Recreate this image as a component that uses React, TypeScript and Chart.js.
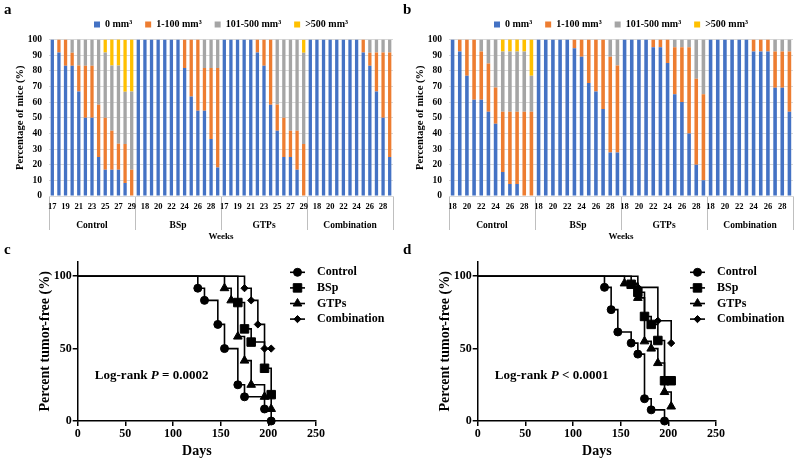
import React, { useEffect, useRef } from 'react';
import { Chart, registerables } from 'chart.js';
import { drawPoint } from 'chart.js/helpers';

Chart.register(...registerables);

const SERIF = "'Liberation Serif', 'Times New Roman', Times, serif";
Chart.defaults.font.family = SERIF;
Chart.defaults.color = '#000';

const groupNames = ['Control', 'BSp', 'GTPs', 'Combination'];
const sizeLabels = ['0 mm³', '1-100 mm³', '101-500 mm³', '>500 mm³'];
const sizeColors = ['#4472C4', '#ED7D31', '#A5A5A5', '#FFC000'];

// ---------- Panel a (weeks 17-29) ----------
const weeksA = ['17', '18', '19', '20', '21', '22', '23', '24', '25', '26', '27', '28', '29'];
const aControl0 = [100, 91.7, 83.3, 83.3, 66.7, 50, 50, 25, 16.7, 16.7, 16.7, 8.3, 0];
const aControl1 = [0, 8.3, 16.7, 8.3, 16.7, 33.3, 33.3, 33.3, 33.3, 25, 16.7, 25, 16.7];
const aControl2 = [0, 0, 0, 8.3, 16.7, 16.7, 16.7, 41.7, 41.7, 41.7, 50, 33.3, 50];
const aControl3 = [0, 0, 0, 0, 0, 0, 0, 0, 8.3, 16.7, 16.7, 33.3, 33.3];
const aBSp0 = [100, 100, 100, 100, 100, 100, 100, 81.8, 63.6, 54.5, 54.5, 36.4, 18.2];
const aBSp1 = [0, 0, 0, 0, 0, 0, 0, 18.2, 36.4, 45.5, 27.3, 45.4, 63.6];
const aBSp2 = [0, 0, 0, 0, 0, 0, 0, 0, 0, 0, 18.2, 18.2, 18.2];
const aBSp3 = [0, 0, 0, 0, 0, 0, 0, 0, 0, 0, 0, 0, 0];
const aGTPs0 = [100, 100, 100, 100, 100, 91.7, 83.3, 58.3, 41.7, 25, 25, 16.7, 0];
const aGTPs1 = [0, 0, 0, 0, 0, 8.3, 16.7, 41.7, 16.7, 25, 16.7, 25, 33.3];
const aGTPs2 = [0, 0, 0, 0, 0, 0, 0, 0, 41.7, 50, 58.3, 58.3, 58.3];
const aGTPs3 = [0, 0, 0, 0, 0, 0, 0, 0, 0, 0, 0, 0, 8.3];
const aComb0 = [100, 100, 100, 100, 100, 100, 100, 100, 91.7, 83.3, 66.7, 50, 25];
const aComb1 = [0, 0, 0, 0, 0, 0, 0, 0, 8.3, 8.3, 25, 41.7, 66.7];
const aComb2 = [0, 0, 0, 0, 0, 0, 0, 0, 0, 8.3, 8.3, 8.3, 8.3];
const aComb3 = [0, 0, 0, 0, 0, 0, 0, 0, 0, 0, 0, 0, 0];

// ---------- Panel b (weeks 18-29) ----------
const weeksB = ['18', '19', '20', '21', '22', '23', '24', '25', '26', '27', '28', '29'];
const bControl0 = [100, 92.3, 76.9, 61.5, 61.5, 53.8, 46.2, 15.4, 7.7, 7.7, 0, 0];
const bControl1 = [0, 7.7, 23.1, 38.5, 30.8, 30.8, 23.1, 38.5, 46.2, 46.2, 53.8, 53.8];
const bControl2 = [0, 0, 0, 0, 7.7, 15.4, 30.8, 38.5, 38.5, 38.5, 38.5, 23.1];
const bControl3 = [0, 0, 0, 0, 0, 0, 0, 7.7, 7.7, 7.7, 7.7, 23.1];
const bBSp0 = [100, 100, 100, 100, 100, 94.4, 88.9, 72.2, 66.7, 55.6, 27.8, 27.8];
const bBSp1 = [0, 0, 0, 0, 0, 5.6, 11.1, 27.8, 33.3, 44.4, 61.1, 55.6];
const bBSp2 = [0, 0, 0, 0, 0, 0, 0, 0, 0, 0, 11.1, 16.7];
const bBSp3 = [0, 0, 0, 0, 0, 0, 0, 0, 0, 0, 0, 0];
const bGTPs0 = [100, 100, 100, 100, 95, 95, 85, 65, 60, 40, 20, 10];
const bGTPs1 = [0, 0, 0, 0, 5, 5, 15, 30, 35, 55, 55, 55];
const bGTPs2 = [0, 0, 0, 0, 0, 0, 0, 5, 5, 5, 25, 35];
const bGTPs3 = [0, 0, 0, 0, 0, 0, 0, 0, 0, 0, 0, 0];
const bComb0 = [100, 100, 100, 100, 100, 100, 92.3, 92.3, 92.3, 69.2, 69.2, 53.8];
const bComb1 = [0, 0, 0, 0, 0, 0, 7.7, 7.7, 7.7, 23.1, 23.1, 38.5];
const bComb2 = [0, 0, 0, 0, 0, 0, 0, 0, 0, 7.7, 7.7, 7.7];
const bComb3 = [0, 0, 0, 0, 0, 0, 0, 0, 0, 0, 0, 0];

// ---------- Panel c (Kaplan-Meier) ----------
const cControlDays = [0, 126, 133, 147, 154, 168, 175, 196, 203];
const cControlSurv = [100, 91.7, 83.3, 66.7, 50, 25, 16.7, 8.3, 0];
const cBSpDays = [0, 168, 175, 182, 196, 203];
const cBSpSurv = [100, 81.8, 63.6, 54.5, 36.4, 18.2];
const cGTPsDays = [0, 154, 161, 168, 175, 182, 196, 203];
const cGTPsSurv = [100, 91.7, 83.3, 58.3, 41.7, 25, 16.7, 8.3];
const cCombDays = [0, 175, 182, 189, 196, 203];
const cCombSurv = [100, 91.7, 83.3, 66.7, 50, 50];

// ---------- Panel d (Kaplan-Meier) ----------
const dControlDays = [0, 133, 140, 147, 161, 168, 175, 182, 196];
const dControlSurv = [100, 92.3, 76.9, 61.5, 53.8, 46.2, 15.4, 7.7, 0];
const dBSpDays = [0, 161, 168, 175, 182, 189, 196, 203];
const dBSpSurv = [100, 94.4, 88.9, 72.2, 66.7, 55.6, 27.8, 27.8];
const dGTPsDays = [0, 154, 168, 175, 182, 189, 196, 203];
const dGTPsSurv = [100, 95, 85, 55, 50, 40, 20, 10];
const dCombDays = [0, 168, 189, 203];
const dCombSurv = [100, 92.3, 69.2, 53.8];

const kmStyles = ['circle', 'rect', 'triangle', 'rectRot'];
const kmRadii = [4, 6, 5, 3.6];

function barConfig(weeks: string[], groups: number[][][]): any {
  const per = weeks.length;
  const labels = groups.flatMap(() => weeks);
  const datasets = sizeLabels.map((label, k) => ({
    label,
    data: groups.flatMap((g) => g[k]),
    backgroundColor: sizeColors[k],
    borderWidth: 0,
    barPercentage: 0.5,
    categoryPercentage: 1,
    xAxisID: 'x',
    yAxisID: 'y',
  }));
  return {
    type: 'bar',
    data: { labels, datasets },
    options: {
      responsive: false,
      animation: false,
      devicePixelRatio: 1,
      layout: { padding: { left: 0, right: 7, top: 6.5, bottom: 0 } },
      plugins: {
        tooltip: { enabled: false },
        legend: {
          position: 'top',
          fullSize: false,
          labels: {
            boxWidth: 6,
            boxHeight: 6,
            padding: 13,
            color: '#000',
            font: { size: 10, weight: 'bold', family: SERIF },
          },
        },
      },
      scales: {
        x: {
          type: 'category',
          stacked: true,
          offset: true,
          grid: {
            display: true,
            offset: true,
            drawOnChartArea: false,
            drawTicks: true,
            tickLength: 34,
            lineWidth: 1,
            color: (c: any) =>
              c.index === undefined || c.index % per === 0 ? '#bfbfbf' : 'rgba(0,0,0,0)',
          },
          border: { display: true, color: '#d9d9d9' },
          ticks: {
            autoSkip: false,
            maxRotation: 0,
            minRotation: 0,
            padding: -28,
            color: '#000',
            font: { size: 8.5, weight: 'bold' },
            callback: (_v: any, index: number) => (index % 2 === 0 ? labels[index] : ''),
          },
          afterFit: (s: any) => {
            s.height = 16;
          },
        },
        xg: {
          type: 'category',
          position: 'bottom',
          weight: 1,
          labels: groupNames,
          offset: true,
          grid: { display: false },
          border: { display: false },
          ticks: {
            autoSkip: false,
            maxRotation: 0,
            padding: -0.5,
            color: '#000',
            font: { size: 9.5, weight: 'bold' },
          },
          title: {
            display: true,
            text: 'Weeks',
            color: '#000',
            font: { size: 9, weight: 'bold' },
            padding: { top: 0, bottom: 0 },
          },
          afterFit: (s: any) => {
            s.height = 30;
          },
        },
        y: {
          stacked: true,
          min: 0,
          max: 100,
          ticks: { stepSize: 10, padding: 7, color: '#000', font: { size: 9.5, weight: 'bold' } },
          grid: { color: '#d9d9d9', drawTicks: false },
          border: { display: false },
          title: {
            display: true,
            text: 'Percentage of mice (%)',
            color: '#000',
            font: { size: 10.5, weight: 'bold' },
            padding: { top: 13.7, bottom: 0 },
          },
          afterFit: (s: any) => {
            s.width = 49;
          },
        },
      },
    },
  };
}

const kmLegendPlugin = {
  id: 'kmLegend',
  afterDraw(chart: any, _args: any, opts: any) {
    const { ctx } = chart;
    ctx.save();
    chart.data.datasets.forEach((ds: any, i: number) => {
      const y = opts.y0 + i * opts.dy;
      ctx.strokeStyle = '#000';
      ctx.fillStyle = '#000';
      ctx.lineWidth = 1.6;
      ctx.beginPath();
      ctx.moveTo(opts.x0, y);
      ctx.lineTo(opts.x1, y);
      ctx.stroke();
      ctx.lineWidth = 1;
      drawPoint(
        ctx,
        { pointStyle: ds.pointStyle, radius: ds.legendRadius, rotation: 0, borderWidth: 1 } as any,
        (opts.x0 + opts.x1) / 2,
        y
      );
      ctx.font = `bold 12px ${SERIF}`;
      ctx.textAlign = 'left';
      ctx.textBaseline = 'middle';
      ctx.fillText(ds.label, opts.tx, y);
    });
    ctx.restore();
  },
};

const kmNotePlugin = {
  id: 'kmNote',
  afterDraw(chart: any, _args: any, opts: any) {
    const { ctx } = chart;
    const xs = chart.scales.x;
    const ys = chart.scales.y;
    let cx = xs.getPixelForValue(opts.x);
    const cy = ys.getPixelForValue(opts.y);
    ctx.save();
    ctx.fillStyle = '#000';
    ctx.textAlign = 'left';
    ctx.textBaseline = 'middle';
    for (const [t, italic] of opts.parts) {
      ctx.font = `${italic ? 'italic ' : ''}bold 13px ${SERIF}`;
      ctx.fillText(t, cx, cy);
      cx += ctx.measureText(t).width;
    }
    ctx.restore();
  },
};

function kmConfig(series: { days: number[]; surv: number[] }[], pParts: [string, boolean][]): any {
  const datasets = series.map((s, i) => ({
    label: groupNames[i],
    data: s.days.map((d, j) => ({ x: d, y: s.surv[j] })),
    stepped: 'before',
    borderColor: '#000',
    borderWidth: 1.6,
    fill: false,
    clip: false,
    pointStyle: kmStyles[i],
    legendRadius: kmRadii[i],
    pointRadius: (c: any) => (c.dataIndex === 0 ? 0 : kmRadii[i]),
    pointBackgroundColor: '#000',
    pointBorderColor: '#000',
    pointBorderWidth: 1,
  }));
  const axisCommon = {
    grid: { drawOnChartArea: false, drawTicks: true, tickLength: 5, color: '#000', lineWidth: 1.5 },
    border: { display: true, color: '#000', width: 1.5 },
  };
  return {
    type: 'line',
    data: { datasets },
    plugins: [kmLegendPlugin, kmNotePlugin],
    options: {
      responsive: false,
      animation: false,
      devicePixelRatio: 1,
      layout: { padding: { left: 0, right: 84, top: 29.7, bottom: 0 } },
      plugins: {
        legend: { display: false },
        tooltip: { enabled: false },
        kmLegend: { x0: 290, x1: 305, tx: 317, y0: 40.3, dy: 15.6 },
        kmNote: { x: 18, y: 31.4, parts: pParts },
      },
      scales: {
        x: {
          type: 'linear',
          min: 0,
          max: 250,
          ...axisCommon,
          ticks: { stepSize: 50, padding: 1.1, maxRotation: 0, color: '#000', font: { size: 12, weight: 'bold' } },
          title: {
            display: true,
            text: 'Days',
            color: '#000',
            font: { size: 14, weight: 'bold' },
            padding: { top: 0, bottom: 3.9 },
          },
          afterFit: (s: any) => {
            s.height = 43;
          },
        },
        y: {
          type: 'linear',
          min: 0,
          max: 110,
          ...axisCommon,
          ticks: { stepSize: 50, includeBounds: false, padding: 1, color: '#000', font: { size: 12, weight: 'bold' } },
          title: {
            display: true,
            text: 'Percent tumor-free (%)',
            color: '#000',
            font: { size: 14, weight: 'bold' },
            padding: { top: 37.3, bottom: 0 },
          },
          afterFit: (s: any) => {
            s.width = 77.7;
          },
        },
      },
    },
  };
}

function ChartBox({ left, top, width, height, make }: { left: number; top: number; width: number; height: number; make: () => any }) {
  const ref = useRef<HTMLCanvasElement>(null);
  useEffect(() => {
    const chart = new Chart(ref.current as HTMLCanvasElement, make());
    return () => chart.destroy();
  }, []);
  return (
    <div style={{ position: 'absolute', left, top, width, height }}>
      <canvas ref={ref} width={width} height={height} style={{ width, height, display: 'block' }} />
    </div>
  );
}

const letterStyle = (left: number, top: number): React.CSSProperties => ({
  position: 'absolute',
  left,
  top,
  font: `bold 15px ${SERIF}`,
  lineHeight: '15px',
  color: '#000',
});

export default function App() {
  const panelA = [
    [aControl0, aControl1, aControl2, aControl3],
    [aBSp0, aBSp1, aBSp2, aBSp3],
    [aGTPs0, aGTPs1, aGTPs2, aGTPs3],
    [aComb0, aComb1, aComb2, aComb3],
  ];
  const panelB = [
    [bControl0, bControl1, bControl2, bControl3],
    [bBSp0, bBSp1, bBSp2, bBSp3],
    [bGTPs0, bGTPs1, bGTPs2, bGTPs3],
    [bComb0, bComb1, bComb2, bComb3],
  ];
  const panelC = [
    { days: cControlDays, surv: cControlSurv },
    { days: cBSpDays, surv: cBSpSurv },
    { days: cGTPsDays, surv: cGTPsSurv },
    { days: cCombDays, surv: cCombSurv },
  ];
  const panelD = [
    { days: dControlDays, surv: dControlSurv },
    { days: dBSpDays, surv: dBSpSurv },
    { days: dGTPsDays, surv: dGTPsSurv },
    { days: dCombDays, surv: dCombSurv },
  ];
  return (
    <div style={{ position: 'fixed', left: 0, top: 0, width: 800, height: 464, background: '#fff', overflow: 'hidden' }}>
      <ChartBox left={0} top={0} width={400} height={242} make={() => barConfig(weeksA, panelA)} />
      <ChartBox left={400} top={0} width={400} height={242} make={() => barConfig(weeksB, panelB)} />
      <ChartBox
        left={0}
        top={232}
        width={400}
        height={232}
        make={() => kmConfig(panelC, [['Log-rank ', false], ['P', true], [' = 0.0002', false]])}
      />
      <ChartBox
        left={400}
        top={232}
        width={400}
        height={232}
        make={() => kmConfig(panelD, [['Log-rank ', false], ['P', true], [' < 0.0001', false]])}
      />
      <span style={letterStyle(4, 2.4)}>a</span>
      <span style={letterStyle(403, 2.4)}>b</span>
      <span style={letterStyle(4, 242.4)}>c</span>
      <span style={letterStyle(403, 242.4)}>d</span>
    </div>
  );
}
